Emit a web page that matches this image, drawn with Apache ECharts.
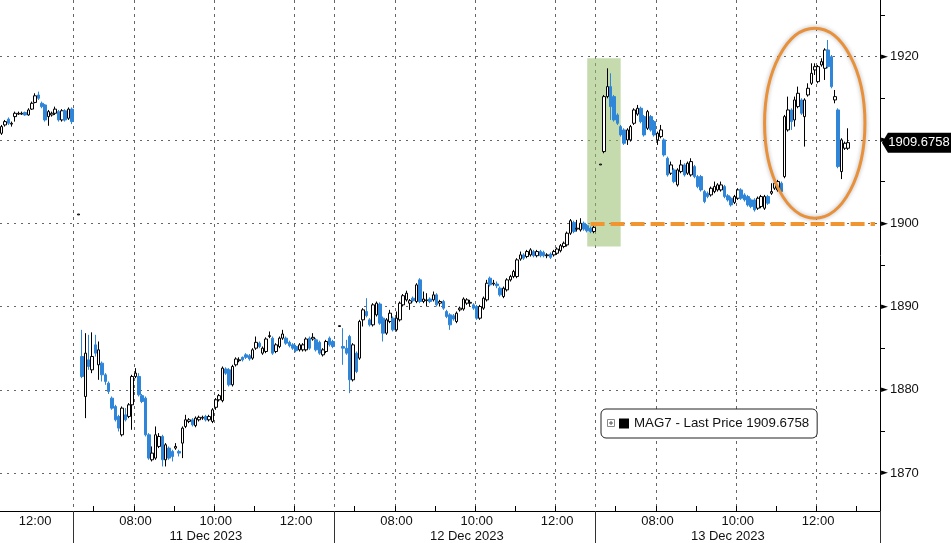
<!DOCTYPE html>
<html><head><meta charset="utf-8">
<script src="https://cdn.jsdelivr.net/npm/echarts@6/dist/echarts.min.js"></script>
<style>html,body{margin:0;padding:0;background:#fff}#c{width:951px;height:543px}</style>
</head><body><div id="c"></div>
<script>
// ---- sessions (5-minute bars) ----
const sessions = [
  {date: '08 Dec 2023', start: '11:10', bars: 22},
  {date: '11 Dec 2023', start: '06:30', bars: 78},
  {date: '12 Dec 2023', start: '06:30', bars: 78},
  {date: '13 Dec 2023', start: '06:30', bars: 85}
];
const timeLabels = ['08:00', '10:00', '12:00'];
const dateLabelTime = '09:45';

// ---- OHLC values [open, close, low, high] ----
const dec08 = [
  [1910.8,1911.6,1910.6,1911.8],[1911.8,1912.2,1911.6,1912.4],[1912.5,1912.0,1911.8,1912.7],
  [1911.9,1912.0,1911.6,1912.2],[1912.8,1913.2,1912.2,1913.4],[1913.1,1913.2,1913.0,1913.4],
  [1913.1,1913.2,1913.0,1913.4],[1913.3,1913.0,1912.9,1913.4],[1913.0,1913.6,1912.9,1913.8],
  [1913.7,1914.4,1913.6,1914.6],[1914.5,1915.3,1914.4,1915.6],[1915.4,1915.0,1914.8,1915.8],
  [1914.4,1914.0,1913.8,1914.6],[1914.2,1912.4,1912.2,1914.3],[1912.8,1913.4,1911.7,1913.6],
  [1913.0,1913.2,1912.8,1913.4],[1913.2,1913.7,1913.0,1914.0],[1913.4,1912.4,1912.2,1913.6],
  [1912.4,1913.5,1912.2,1913.7],[1913.5,1912.4,1912.2,1913.7],[1912.6,1913.7,1912.4,1913.9],
  [1913.7,1912.2,1911.9,1913.9]
];
const dec11 = [
  null,[1901.0,1901.1,1901.0,1901.1],
  [1884.0,1881.6,1881.4,1887.2],[1879.2,1884.4,1876.6,1886.8],[1883.6,1882.8,1882.4,1886.6],
  [1882.4,1884.0,1882.0,1886.9],[1885.4,1884.4,1884.0,1886.6],[1883.0,1884.8,1881.2,1885.8],
  [1883.2,1881.8,1881.0,1883.4],[1881.8,1881.0,1880.6,1882.0],[1880.8,1879.8,1879.5,1881.0],
  [1879.0,1877.8,1877.6,1879.2],[1878.0,1876.4,1876.2,1878.2],[1876.8,1875.4,1875.0,1877.0],
  [1874.6,1877.8,1874.4,1878.0],[1877.0,1876.4,1876.2,1877.8],[1876.8,1878.2,1876.6,1878.4],
  [1878.2,1881.6,1875.2,1881.8],[1881.6,1882.0,1881.4,1882.6],[1881.6,1879.4,1879.2,1882.0],
  [1879.3,1878.6,1878.4,1879.5],[1879.0,1874.6,1874.4,1879.2],[1874.6,1871.8,1871.6,1874.8],
  [1871.6,1872.4,1871.4,1873.2],[1871.8,1874.6,1871.6,1875.6],[1873.2,1874.4,1873.0,1874.8],
  [1874.4,1871.6,1870.8,1874.6],[1871.6,1873.4,1870.8,1873.6],[1873.0,1871.8,1871.6,1873.2],
  [1872.6,1872.0,1871.4,1872.8],[1873.0,1873.2,1872.8,1873.6],[1872.6,1872.4,1872.0,1872.8],
  [1873.6,1875.4,1871.8,1875.6],[1875.6,1876.4,1875.4,1877.0],[1876.2,1876.4,1876.0,1876.6],
  [1876.4,1875.8,1875.6,1876.6],[1875.7,1876.6,1875.5,1876.8],[1876.4,1876.7,1876.2,1876.9],
  [1876.6,1876.7,1876.4,1876.9],[1876.8,1876.4,1876.2,1877.0],
  [1876.4,1876.8,1876.2,1877.0],[1876.2,1877.6,1876.0,1877.8],[1877.9,1878.8,1877.6,1879.0],
  [1878.8,1879.3,1878.6,1879.5],[1878.7,1882.6,1878.5,1882.8],[1882.5,1882.0,1881.8,1882.7],
  [1882.4,1880.6,1880.4,1882.6],[1880.6,1882.8,1880.4,1883.0],[1883.0,1883.7,1882.8,1883.9],
  [1883.5,1883.6,1883.3,1883.9],[1883.9,1883.6,1883.4,1884.0],[1884.2,1883.9,1883.7,1884.4],
  [1884.1,1883.7,1883.5,1884.3],[1883.8,1884.8,1883.6,1885.0],[1885.0,1885.7,1884.8,1886.4],
  [1885.6,1885.2,1885.0,1885.8],[1884.4,1885.0,1884.2,1885.2],[1884.6,1886.1,1884.4,1886.3],
  [1886.4,1886.5,1886.2,1887.0],[1886.2,1884.4,1884.2,1886.4],[1884.6,1885.4,1884.4,1885.6],
  [1885.2,1886.2,1885.0,1886.4],[1886.2,1886.7,1886.0,1887.2],[1886.2,1885.6,1885.4,1886.4],
  [1885.7,1885.3,1885.1,1885.9],[1885.4,1885.0,1884.8,1885.6],[1885.2,1884.7,1884.5,1885.4],
  [1884.8,1885.4,1884.6,1885.6],[1884.8,1885.4,1884.6,1885.6],[1884.8,1886.1,1884.6,1886.3],
  [1886.2,1885.0,1884.8,1886.4],[1886.1,1886.3,1885.9,1886.8],[1886.0,1884.8,1884.6,1886.2],
  [1885.7,1884.4,1884.2,1885.9],[1884.2,1884.8,1884.0,1885.0],[1884.6,1885.8,1884.4,1886.0],
  [1886.2,1885.4,1885.2,1886.4],[1885.8,1885.2,1885.0,1886.0]
];
const dec12 = [
  null,[1887.6,1887.7,1887.6,1887.7],
  [1885.2,1885.0,1883.0,1887.4],[1885.0,1884.4,1884.2,1886.0],[1886.4,1881.2,1879.6,1886.6],
  [1881.2,1885.4,1881.0,1885.6],[1884.4,1882.2,1882.0,1884.6],[1883.8,1888.2,1883.6,1888.4],
  [1888.4,1889.6,1887.6,1889.8],[1889.4,1888.9,1888.7,1891.0],[1888.4,1887.8,1887.6,1888.6],
  [1887.8,1890.2,1887.6,1890.4],[1889.0,1890.4,1888.8,1890.6],[1890.3,1888.0,1887.8,1890.5],
  [1888.6,1886.8,1885.8,1888.8],[1886.8,1888.4,1886.6,1888.6],[1888.2,1889.2,1888.0,1889.6],
  [1888.6,1887.2,1887.0,1888.8],[1887.2,1888.6,1887.0,1889.4],[1888.4,1890.4,1888.2,1890.6],
  [1890.2,1891.3,1890.0,1891.5],[1890.8,1891.6,1890.6,1891.9],[1890.4,1890.7,1889.6,1890.9],
  [1891.0,1890.7,1890.5,1891.2],[1890.6,1892.6,1890.4,1892.8],[1893.2,1890.6,1890.4,1893.4],
  [1890.6,1890.9,1890.4,1891.8],[1890.7,1890.8,1890.0,1891.6],[1890.9,1890.6,1890.4,1891.1],
  [1890.8,1891.4,1890.6,1891.8],[1891.4,1890.2,1890.0,1891.6],[1890.4,1890.6,1890.0,1890.8],
  [1890.6,1889.8,1889.6,1890.8],[1889.4,1888.8,1888.6,1889.6],[1889.0,1887.8,1887.2,1889.2],
  [1888.9,1888.5,1888.3,1889.1],[1888.2,1889.2,1888.0,1889.4],[1889.6,1889.8,1889.4,1890.0],
  [1889.7,1890.9,1889.5,1891.1],[1890.4,1890.8,1890.2,1891.0],
  [1890.4,1890.5,1890.0,1890.8],[1890.2,1889.8,1889.6,1890.4],[1890.0,1888.6,1888.4,1890.2],
  [1888.6,1890.0,1888.4,1890.2],[1889.8,1891.0,1889.6,1891.2],[1890.8,1892.8,1890.6,1893.2],
  [1893.4,1892.6,1892.4,1893.6],[1892.7,1892.8,1892.5,1893.2],[1892.7,1892.5,1892.2,1893.0],
  [1892.2,1891.4,1891.2,1892.4],[1891.2,1892.2,1891.0,1892.4],[1892.0,1893.2,1891.8,1893.4],
  [1893.2,1893.6,1893.0,1893.8],[1893.6,1894.2,1893.4,1894.4],[1893.6,1895.6,1893.4,1895.8],
  [1895.7,1896.2,1895.5,1896.6],[1896.2,1895.8,1895.6,1896.4],[1896.0,1896.6,1895.8,1896.8],
  [1896.2,1896.8,1896.0,1897.0],[1896.6,1896.1,1895.9,1896.8],[1896.1,1896.6,1895.9,1896.8],
  [1896.6,1896.1,1895.9,1896.8],[1896.5,1896.1,1895.9,1896.7],[1896.1,1896.2,1895.8,1896.4],
  [1896.3,1895.9,1895.7,1896.5],[1896.2,1896.6,1896.0,1896.8],[1896.4,1896.9,1896.2,1897.1],
  [1896.7,1897.3,1896.5,1897.5],[1897.2,1897.6,1897.0,1897.8],[1897.4,1898.8,1897.2,1899.0],
  [1898.8,1900.3,1898.6,1900.5],[1900.1,1899.0,1898.8,1900.3],[1899.3,1899.4,1899.0,1900.4],
  [1899.2,1900.0,1899.0,1900.6],[1900.0,1899.3,1899.1,1900.2],[1899.7,1899.1,1898.9,1899.9],
  [1899.4,1899.0,1898.8,1899.6],[1899.0,1899.5,1898.8,1899.8]
];
const dec13 = [
  null,[1907.0,1907.1,1907.0,1907.1],
  [1908.6,1915.2,1908.4,1915.4],[1915.2,1916.4,1915.0,1918.6],[1916.4,1914.0,1912.4,1918.0],
  [1915.2,1912.4,1912.2,1915.4],[1913.0,1912.0,1911.8,1913.2],[1911.6,1910.6,1910.4,1911.8],
  [1911.2,1909.6,1909.4,1911.4],[1910.0,1911.2,1909.4,1911.4],[1910.0,1911.6,1909.8,1911.8],
  [1912.0,1913.6,1911.8,1913.8],[1913.1,1913.8,1912.9,1914.2],[1913.8,1912.2,1912.0,1914.0],
  [1912.8,1910.6,1910.4,1913.0],[1911.4,1913.4,1911.2,1913.6],[1912.8,1911.2,1911.0,1913.0],
  [1912.2,1910.6,1910.4,1912.4],[1910.0,1910.8,1909.4,1911.0],[1910.4,1911.2,1910.2,1911.8],
  [1910.0,1908.2,1908.0,1910.2],[1907.8,1905.8,1905.6,1908.0],[1906.0,1907.0,1905.8,1907.4],
  [1906.4,1905.0,1904.8,1906.6],[1904.6,1906.4,1904.4,1906.6],[1906.2,1907.0,1906.0,1907.6],
  [1907.0,1905.8,1905.6,1907.2],[1906.0,1907.2,1905.8,1907.4],[1905.8,1907.4,1905.6,1907.8],
  [1906.8,1905.6,1905.4,1907.0],[1905.6,1904.4,1904.2,1905.8],[1905.6,1904.0,1903.8,1905.8],
  [1903.8,1902.6,1902.4,1904.0],[1903.6,1903.2,1903.0,1903.8],[1903.4,1904.2,1903.2,1904.4],
  [1903.8,1904.4,1903.6,1905.0],[1904.0,1904.6,1903.8,1904.8],[1904.0,1904.6,1903.8,1905.0],
  [1904.4,1903.2,1903.0,1904.6],[1903.3,1902.8,1902.6,1903.5],[1903.0,1902.2,1902.0,1903.2],
  [1902.5,1903.2,1902.3,1903.4],[1903.0,1904.0,1902.8,1904.2],[1904.0,1903.0,1902.8,1904.2],
  [1903.4,1902.8,1902.6,1903.6],[1903.2,1902.2,1902.0,1903.4],[1902.8,1902.0,1901.8,1903.0],
  [1902.8,1901.6,1901.4,1903.0],[1901.8,1903.0,1901.6,1903.2],[1902.0,1903.2,1901.8,1903.4],
  [1901.8,1903.2,1901.6,1903.4],[1903.2,1902.4,1902.2,1903.4],[1903.6,1903.8,1903.4,1904.8],
  [1904.2,1904.8,1904.0,1905.2],[1904.0,1905.0,1903.8,1905.2],[1904.8,1903.8,1903.6,1905.0],
  [1905.6,1912.8,1905.4,1913.0],[1911.2,1913.6,1911.0,1915.2],[1913.6,1912.2,1911.2,1913.8],
  [1912.4,1914.8,1911.6,1915.2],[1914.0,1915.6,1913.8,1916.4],[1914.8,1913.2,1913.0,1915.0],
  [1912.8,1914.8,1909.2,1915.0],[1915.4,1916.2,1915.2,1916.8],[1916.8,1918.0,1916.6,1919.2],
  [1918.4,1918.8,1917.8,1919.2],[1917.0,1918.8,1916.8,1919.0],[1919.0,1919.4,1918.8,1919.8],
  [1918.6,1920.8,1917.2,1921.0],[1920.8,1918.8,1918.6,1922.0],[1920.0,1916.4,1916.2,1920.2],
  [1914.8,1915.2,1914.4,1916.0],[1913.6,1906.8,1906.6,1913.8],[1906.2,1910.0,1905.3,1910.2],
  [1909.0,1909.6,1908.8,1909.8],[1909.0,1909.6758,1908.8,1911.4]
];

// ---- labels / annotations ----
const seriesName = 'MAG7 - Last Price 1909.6758';
const lastPrice = 1909.6758;
const yMin = 1865.45, yMax = 1926.8;
const yLabelValues = [1870, 1880, 1890, 1900, 1910, 1920];
const yTickValues = [1875, 1885, 1895, 1905, 1915, 1925];
const refLine = {level: 1899.9, from: 176, to: 261};
const highlight = {from: 175, to: 185, top: 1919.8, bottom: 1897.2};
const ellipseBox = {from: 228, to: 258, top: 1923.4, bottom: 1900.6};

const font = 'Liberation Sans';
const downColor = '#2f86d8';

function toMin(t){const p=t.split(':').map(Number);return p[0]*60+p[1];}
function toTime(m){return String(Math.floor(m/60)).padStart(2,'0')+':'+String(m%60).padStart(2,'0');}
const cats = [];
sessions.forEach(s => { for (let k = 0; k < s.bars; k++) cats.push(s.date + '|' + toTime(toMin(s.start) + 5*k)); });
const firstDate = sessions[0].date;
const part = (i, k) => cats[i].split('|')[k];

const ohlc = [].concat(dec08, dec11, dec12, dec13).map(d => d ? d : ['-','-','-','-']);
while (ohlc.length < cats.length) ohlc.push(['-','-','-','-']);

const isDayStart = i => part(i,1) === '06:30';
const isTimeLabel = i => timeLabels.includes(part(i,1));
const isGrid = i => isDayStart(i) || (part(i,0) !== firstDate && timeLabels.includes(part(i,1)));
const isHourTick = i => part(i,0) !== firstDate && part(i,1).endsWith(':00');
const isDateLabel = i => part(i,1) === dateLabelTime;

const chart = echarts.init(document.getElementById('c'), null, {renderer: 'canvas'});
chart.setOption({
  animation: false,
  textStyle: {fontFamily: font},
  grid: {left: 0, right: 71, top: 0, bottom: 32, containLabel: false},
  legend: {
    left: 601, top: 409, padding: [8, 8, 8, 18], itemWidth: 10, itemHeight: 10, itemGap: 5,
    icon: 'rect', borderColor: '#222', borderWidth: 1, borderRadius: 5, backgroundColor: '#fff',
    selectedMode: false,
    textStyle: {fontFamily: font, fontSize: 13.3, color: '#111'},
    data: [{name: seriesName, itemStyle: {color: '#000', borderWidth: 0}}]
  },
  xAxis: [{
    type: 'category', data: cats, boundaryGap: true, position: 'bottom',
    axisLine: {show: true, onZero: false, lineStyle: {color: '#000', width: 1}},
    axisTick: {show: true, inside: true, length: 5, interval: i => isHourTick(i), lineStyle: {color: '#000'}},
    axisLabel: {interval: i => isTimeLabel(i), formatter: v => v.split('|')[1], margin: 4,
      fontSize: 13, color: '#111', fontFamily: font},
    splitLine: {show: true, interval: i => isGrid(i), lineStyle: {color: '#666', type: [3, 4], width: 1}}
  }, {
    type: 'category', data: cats, boundaryGap: true, position: 'bottom',
    axisLine: {show: false},
    axisTick: {show: true, length: 32, interval: i => isDayStart(i), lineStyle: {color: '#333'}},
    axisLabel: {interval: i => isDateLabel(i), formatter: v => v.split('|')[0], margin: 19,
      fontSize: 13, color: '#111', fontFamily: font},
    splitLine: {show: false}
  }],
  yAxis: [{
    type: 'value', position: 'right', min: yMin, max: yMax,
    axisLine: {show: true, lineStyle: {color: '#000'}},
    axisTick: {show: false, customValues: yLabelValues},
    axisLabel: {customValues: yLabelValues, margin: 1,
      formatter: v => '{a|\u25BA}{b|' + v + '}',
      rich: {a: {fontFamily: 'DejaVu Sans', fontSize: 9, color: '#000', padding: [0, 2, 0, 0]},
             b: {fontFamily: font, fontSize: 13, color: '#111'}}},
    splitLine: {show: true, lineStyle: {color: '#666', type: [2, 5], width: 1}}
  }, {
    type: 'value', position: 'right', min: yMin, max: yMax,
    axisLine: {show: false},
    axisTick: {show: true, customValues: yTickValues, length: 5, lineStyle: {color: '#000'}},
    axisLabel: {show: false},
    splitLine: {show: false}
  }],
  series: [{
    type: 'line', name: 'annotations', data: [], silent: true, z: 1, clip: false,
    markArea: {silent: true, itemStyle: {color: 'rgba(150,190,105,0.55)'},
      data: [[{coord: [highlight.from, highlight.top]}, {coord: [highlight.to, highlight.bottom]}]]},
    markLine: {silent: true, symbol: ['none', 'none'], label: {show: false},
      lineStyle: {color: '#F0952F', width: 4, type: [14, 6]},
      data: [[{coord: [refLine.from, refLine.level]}, {coord: [refLine.to, refLine.level]}]]}
  }, {
    type: 'candlestick', name: seriesName, data: ohlc, barWidth: 3, clip: false, z: 3,
    itemStyle: {color: '#ffffff', color0: downColor, borderColor: '#000000', borderColor0: downColor, borderWidth: 1},
    markPoint: {
      silent: true, symbol: 'path://M0,10 L6,0 L70,0 L70,20 L6,20 Z', symbolSize: [70, 20],
      symbolKeepAspect: false, symbolOffset: [38.6, 0],
      itemStyle: {color: '#000'},
      label: {show: true, position: 'inside', offset: [2, 0], color: '#fff', fontSize: 13, fontFamily: font,
        formatter: () => String(lastPrice)},
      data: [{coord: [262, lastPrice]}]
    }
  }]
});

const pA = chart.convertToPixel({gridIndex: 0}, [ellipseBox.from, ellipseBox.top]);
const pB = chart.convertToPixel({gridIndex: 0}, [ellipseBox.to, ellipseBox.bottom]);
chart.setOption({
  graphic: [{
    type: 'ellipse', z: 100, silent: true,
    shape: {cx: (pA[0]+pB[0])/2, cy: (pA[1]+pB[1])/2, rx: (pB[0]-pA[0])/2, ry: (pB[1]-pA[1])/2},
    style: {fill: 'none', stroke: '#E8903A', lineWidth: 3, shadowBlur: 4, shadowColor: 'rgba(0,0,0,0.3)'}
  },
  {type: 'rect', z: 100, silent: true, shape: {x: 607.5, y: 419.5, width: 7, height: 7},
    style: {fill: '#fff', stroke: '#888', lineWidth: 1}},
  {type: 'line', z: 101, silent: true, shape: {x1: 609, y1: 423, x2: 613, y2: 423}, style: {stroke: '#555', lineWidth: 1}},
  {type: 'line', z: 101, silent: true, shape: {x1: 611, y1: 421, x2: 611, y2: 425}, style: {stroke: '#555', lineWidth: 1}}
  ]
});
</script>
</body></html>
